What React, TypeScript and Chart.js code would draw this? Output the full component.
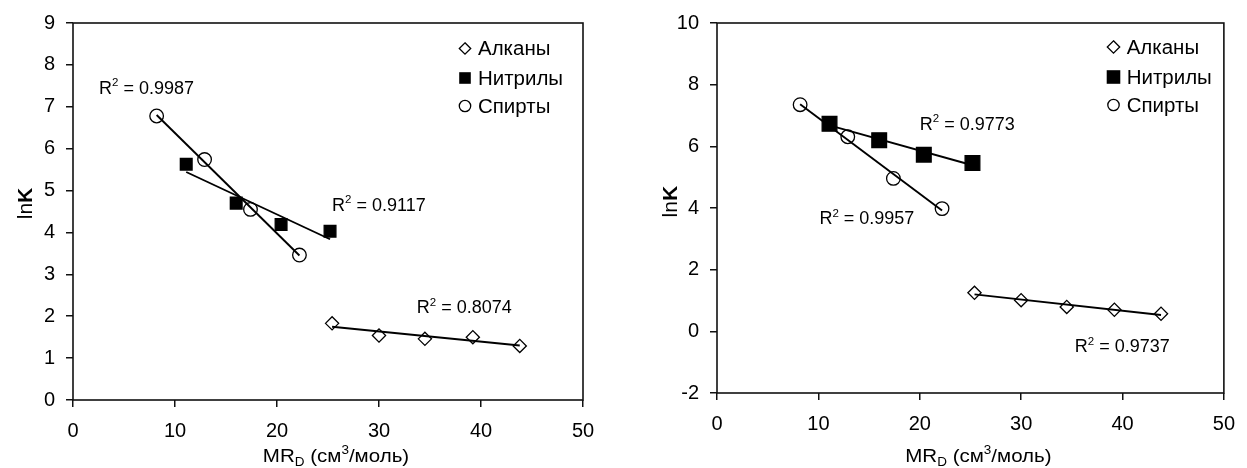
import React, { useEffect, useRef } from 'react';
import { Chart, registerables } from 'chart.js';

Chart.register(...registerables);

const FONT = '"Liberation Sans", Arial, "Noto Sans", sans-serif';

// ---------- data ----------
const seriesNames = ['Алканы', 'Нитрилы', 'Спирты'];

const alkaneMR = [25.4, 30.0, 34.5, 39.2, 43.8];
const nitrileMR = [11.1, 16.0, 20.4, 25.2];
const alcoholMR = [8.2, 12.9, 17.4, 22.2];

const leftAlkanes = [1.83, 1.54, 1.46, 1.5, 1.29];
const leftNitriles = [5.63, 4.7, 4.19, 4.03];
const leftAlcohols = [6.78, 5.74, 4.55, 3.46];

const rightAlkanes = [1.25, 1.01, 0.79, 0.7, 0.57];
const rightNitriles = [6.73, 6.2, 5.73, 5.46];
const rightAlcohols = [7.35, 6.31, 4.96, 3.98];

const leftR2 = ['0.8074', '0.9117', '0.9987'];
const rightR2 = ['0.9737', '0.9773', '0.9957'];

const xTickValues = [0, 10, 20, 30, 40, 50];
const leftYTickValues = [0, 1, 2, 3, 4, 5, 6, 7, 8, 9];
const rightYTickValues = [-2, 0, 2, 4, 6, 8, 10];

// R² label anchors (data units: left edge x, vertical centre y)
const leftR2Anchors = [
  [33.7, 2.22],
  [25.4, 4.67],
  [2.55, 7.46],
];
const rightR2Anchors = [
  [35.3, -0.47],
  [20.0, 6.74],
  [10.1, 3.68],
];

// ---------- helpers ----------
type Pt = { x: number; y: number };
const toPoints = (xs: number[], ys: number[]): Pt[] => xs.map((x, i) => ({ x, y: ys[i] }));

function trend(xs: number[], ys: number[]): Pt[] {
  const n = xs.length;
  const mx = xs.reduce((a, b) => a + b, 0) / n;
  const my = ys.reduce((a, b) => a + b, 0) / n;
  let sxy = 0;
  let sxx = 0;
  for (let i = 0; i < n; i++) {
    sxy += (xs[i] - mx) * (ys[i] - my);
    sxx += (xs[i] - mx) * (xs[i] - mx);
  }
  const b = sxy / sxx;
  const a = my - b * mx;
  const x0 = Math.min(...xs);
  const x1 = Math.max(...xs);
  return [
    { x: x0, y: a + b * x0 },
    { x: x1, y: a + b * x1 },
  ];
}

type Piece = { t: string; size: number; dy?: number; bold?: boolean };
const fontOf = (p: Piece) => `${p.bold ? 'bold ' : ''}${p.size}px ${FONT}`;

function drawPieces(
  ctx: CanvasRenderingContext2D,
  pieces: Piece[],
  x: number,
  baseline: number,
  align: 'left' | 'center',
  sx = 1
) {
  let w = 0;
  for (const p of pieces) {
    ctx.font = fontOf(p);
    w += ctx.measureText(p.t).width;
  }
  w *= sx;
  const start = align === 'center' ? x - w / 2 : x;
  ctx.save();
  ctx.translate(start, baseline);
  ctx.scale(sx, 1);
  ctx.fillStyle = '#000';
  ctx.textAlign = 'left';
  ctx.textBaseline = 'alphabetic';
  let cx = 0;
  for (const p of pieces) {
    ctx.font = fontOf(p);
    ctx.fillText(p.t, cx, p.dy || 0);
    cx += ctx.measureText(p.t).width;
  }
  ctx.restore();
}

function drawMarker(ctx: CanvasRenderingContext2D, kind: number, x: number, y: number, size: number) {
  ctx.save();
  ctx.strokeStyle = '#000';
  ctx.fillStyle = '#000';
  ctx.lineWidth = 1.3;
  ctx.beginPath();
  if (kind === 0) {
    ctx.moveTo(x, y - size);
    ctx.lineTo(x + size, y);
    ctx.lineTo(x, y + size);
    ctx.lineTo(x - size, y);
    ctx.closePath();
    ctx.stroke();
  } else if (kind === 1) {
    ctx.rect(x - size, y - size, size * 2, size * 2);
    ctx.fill();
  } else {
    ctx.arc(x, y, size, 0, Math.PI * 2);
    ctx.stroke();
  }
  ctx.restore();
}

type PanelCfg = {
  left: number;
  width: number;
  yAxisWidth: number;
  xAxisHeight: number;
  padTop: number;
  padRight: number;
  yMin: number;
  yMax: number;
  yTicks: number[];
  alk: number[];
  nit: number[];
  alc: number[];
  r2: string[];
  r2Anchors: number[][];
  squareRadius: number;
  legendMarkerX: number;
  legendTextX: number;
  legendRows: number[];
  legendSizes: number[];
  yTitleBaselineX: number;
  yTitleCenterY: number;
  xTitleOffset: number;
};

function makePlugin(cfg: PanelCfg) {
  return {
    id: 'panelDecor' + cfg.left,
    beforeDatasetsDraw(chart: any) {
      const ctx: CanvasRenderingContext2D = chart.ctx;
      const ca = chart.chartArea;
      ctx.save();
      ctx.strokeStyle = '#111';
      ctx.lineWidth = 1.6;
      ctx.strokeRect(ca.left, ca.top, ca.right - ca.left, ca.bottom - ca.top);
      ctx.restore();
    },
    afterDraw(chart: any) {
      const ctx: CanvasRenderingContext2D = chart.ctx;
      const ca = chart.chartArea;
      const xs = chart.scales.x;
      const ys = chart.scales.y;

      // R² labels
      cfg.r2.forEach((val, i) => {
        const [ax, ay] = cfg.r2Anchors[i];
        const px = xs.getPixelForValue(ax);
        const py = ys.getPixelForValue(ay);
        drawPieces(
          ctx,
          [
            { t: 'R', size: 18 },
            { t: '2', size: 11.5, dy: -7.5 },
            { t: ' = ' + val, size: 18 },
          ],
          px,
          py + 0.358 * 18,
          'left'
        );
      });

      // legend
      seriesNames.forEach((name, i) => {
        const ry = cfg.legendRows[i];
        drawMarker(ctx, i, cfg.legendMarkerX, ry, cfg.legendSizes[i]);
        drawPieces(ctx, [{ t: name, size: 19.5 }], cfg.legendTextX, ry + 0.358 * 19.5, 'left', 1.05);
      });

      // x title
      const cx = (ca.left + ca.right) / 2 + cfg.xTitleOffset;
      drawPieces(
        ctx,
        [
          { t: 'MR', size: 19 },
          { t: 'D', size: 12.5, dy: 4 },
          { t: ' (см', size: 19 },
          { t: '3', size: 12.5, dy: -8 },
          { t: '/моль)', size: 19 },
        ],
        cx,
        462,
        'center',
        1.08
      );

      // y title
      ctx.save();
      ctx.translate(cfg.yTitleBaselineX, cfg.yTitleCenterY);
      ctx.rotate(-Math.PI / 2);
      drawPieces(
        ctx,
        [
          { t: 'ln', size: 20 },
          { t: 'K', size: 20, bold: true },
        ],
        0,
        0,
        'center',
        1.05
      );
      ctx.restore();
    },
  };
}

function buildConfig(cfg: PanelCfg): any {
  const markerCommon = { borderColor: '#000', borderWidth: 1.3 };
  const lineCommon = {
    type: 'line',
    showLine: true,
    borderColor: '#000',
    borderWidth: 1.9,
    pointRadius: 0,
    fill: false,
    tension: 0,
  };
  return {
    type: 'scatter',
    data: {
      datasets: [
        {
          label: seriesNames[0],
          data: toPoints(alkaneMR, cfg.alk),
          pointStyle: 'rectRot',
          pointRadius: 6.6,
          backgroundColor: 'rgba(0,0,0,0)',
          ...markerCommon,
        },
        {
          label: seriesNames[1],
          data: toPoints(nitrileMR, cfg.nit),
          pointStyle: 'rect',
          pointRadius: cfg.squareRadius,
          backgroundColor: '#000',
          ...markerCommon,
        },
        {
          label: seriesNames[2],
          data: toPoints(alcoholMR, cfg.alc),
          pointStyle: 'circle',
          pointRadius: 6.8,
          backgroundColor: 'rgba(0,0,0,0)',
          ...markerCommon,
        },
        { label: 'trend-alk', data: trend(alkaneMR, cfg.alk), ...lineCommon },
        { label: 'trend-nit', data: trend(nitrileMR, cfg.nit), ...lineCommon },
        { label: 'trend-alc', data: trend(alcoholMR, cfg.alc), ...lineCommon },
      ],
    },
    options: {
      responsive: false,
      animation: false,
      devicePixelRatio: 1,
      layout: { padding: { left: 0, top: cfg.padTop, right: cfg.padRight, bottom: 0 } },
      plugins: { legend: { display: false }, tooltip: { enabled: false }, title: { display: false } },
      events: [],
      scales: {
        x: {
          type: 'linear',
          min: 0,
          max: 50,
          afterBuildTicks: (s: any) => {
            s.ticks = xTickValues.map((v) => ({ value: v }));
          },
          afterFit: (s: any) => {
            s.height = cfg.xAxisHeight;
          },
          grid: { drawOnChartArea: false, drawTicks: true, tickLength: 7, color: '#111', lineWidth: 1.5 },
          border: { display: false },
          ticks: { color: '#000', font: { family: FONT, size: 20 }, padding: 12, maxRotation: 0, autoSkip: false },
        },
        y: {
          type: 'linear',
          min: cfg.yMin,
          max: cfg.yMax,
          afterBuildTicks: (s: any) => {
            s.ticks = cfg.yTicks.map((v) => ({ value: v }));
          },
          afterFit: (s: any) => {
            s.width = cfg.yAxisWidth;
          },
          grid: { drawOnChartArea: false, drawTicks: true, tickLength: 7, color: '#111', lineWidth: 1.5 },
          border: { display: false },
          ticks: { color: '#000', font: { family: FONT, size: 20 }, padding: 11, autoSkip: false },
        },
      },
    },
    plugins: [makePlugin(cfg)],
  };
}

const leftCfg: PanelCfg = {
  left: 0,
  width: 640,
  yAxisWidth: 73,
  xAxisHeight: 68,
  padTop: 17,
  padRight: 57,
  yMin: 0,
  yMax: 9,
  yTicks: leftYTickValues,
  alk: leftAlkanes,
  nit: leftNitriles,
  alc: leftAlcohols,
  r2: leftR2,
  r2Anchors: leftR2Anchors,
  squareRadius: 8.3,
  legendMarkerX: 465,
  legendTextX: 478,
  legendRows: [48.5, 78, 106],
  legendSizes: [5.7, 5.8, 5.7],
  yTitleBaselineX: 31.5,
  yTitleCenterY: 203.5,
  xTitleOffset: 8,
};

const rightCfg: PanelCfg = {
  left: 640,
  width: 607,
  yAxisWidth: 77,
  xAxisHeight: 75,
  padTop: 19,
  padRight: 15,
  yMin: -2,
  yMax: 10,
  yTicks: rightYTickValues,
  alk: rightAlkanes,
  nit: rightNitriles,
  alc: rightAlcohols,
  r2: rightR2,
  r2Anchors: rightR2Anchors,
  squareRadius: 10.4,
  legendMarkerX: 473.5,
  legendTextX: 486.7,
  legendRows: [47, 77, 105],
  legendSizes: [6.2, 6.8, 5.7],
  yTitleBaselineX: 36.7,
  yTitleCenterY: 201.7,
  xTitleOffset: 8,
};

function Panel({ cfg }: { cfg: PanelCfg }) {
  const ref = useRef<HTMLCanvasElement | null>(null);
  useEffect(() => {
    if (!ref.current) return;
    const chart = new Chart(ref.current, buildConfig(cfg));
    return () => chart.destroy();
  }, [cfg]);
  return (
    <canvas
      ref={ref}
      width={cfg.width}
      height={468}
      style={{ position: 'absolute', left: cfg.left, top: 0, width: cfg.width, height: 468 }}
    />
  );
}

export default function App() {
  return (
    <div
      style={{
        position: 'absolute',
        left: 0,
        top: 0,
        width: 1247,
        height: 468,
        background: '#fff',
        overflow: 'hidden',
      }}
    >
      <Panel cfg={leftCfg} />
      <Panel cfg={rightCfg} />
    </div>
  );
}
